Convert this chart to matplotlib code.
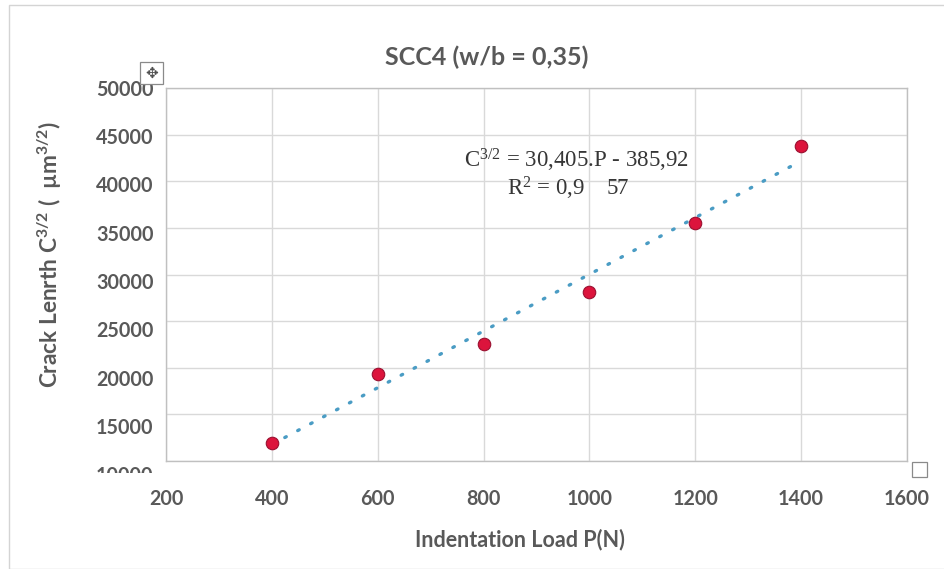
import matplotlib
matplotlib.use("Agg")
import matplotlib.pyplot as plt
import numpy as np
from matplotlib.patches import Rectangle
from matplotlib.transforms import ScaledTranslation

# ---- data ----
load_P = [400, 600, 800, 1000, 1200, 1400]
crack_C32 = [11950, 19350, 22500, 28150, 35550, 43750]
slope = 30.405
intercept = -385.92
x_ticks = [200, 400, 600, 800, 1000, 1200, 1400, 1600]
y_ticks = [10000, 15000, 20000, 25000, 30000, 35000, 40000, 45000, 50000]
title = "SCC4 (w/b = 0,35)"
xlabel = "Indentation Load P(N)"
ylabel = "Crack Lenrth C$^{3/2}$ (  µm$^{3/2}$)"
eq_line1 = "C$^{3/2}$ = 30,405.P - 385,92"
eq_line2 = "R$^{2}$ = 0,9    57"

plt.rcParams['font.family'] = ['Lato', 'DejaVu Sans']
plt.rcParams['mathtext.default'] = 'regular'

W, H = 944, 569
fig = plt.figure(figsize=(W / 100, H / 100), dpi=100)
fig.patch.set_facecolor('white')

# outer chart border
fig.patches.append(Rectangle((9 / W, 0), 1, 1 - 5 / H, transform=fig.transFigure,
                             fill=False, edgecolor='#d4d4d4', linewidth=1.0))

left, right, top, bottom = 166, 907, 88, 461
ax = fig.add_axes([left / W, 1 - bottom / H, (right - left) / W, (bottom - top) / H])

gray = '#595959'
ax.set_xlim(200, 1600)
ax.set_ylim(10000, 50000)
ax.set_xticks(x_ticks, [str(v) for v in x_ticks])
ax.set_yticks(y_ticks, [str(v) for v in y_ticks])
ax.grid(True, color='#d9d9d9', linewidth=1.0)
ax.set_axisbelow(True)
for s in ax.spines.values():
    s.set_color('#c0c0c0')
    s.set_linewidth(1.0)
ax.tick_params(length=0, labelsize=14.2, labelcolor=gray, pad=9)
ax.tick_params(axis='x', pad=20)
for lab in ax.get_xticklabels() + ax.get_yticklabels():
    lab.set_fontweight('bold')

# y tick labels drift slightly downward in the reference
for tick in ax.yaxis.get_major_ticks():
    v = tick.get_loc()
    off = (50000 - v) / 40000 * 13
    tick.label1.set_transform(tick.label1.get_transform() +
                              ScaledTranslation(0, -off / 100, fig.dpi_scale_trans))
    if v == 10000:
        tick.label1.set_clip_on(True)
        tick.label1.set_clip_path(Rectangle((0, 1 - 473 / H), 1, 1, transform=fig.transFigure))

# trendline
xt = np.array([load_P[0], load_P[-1]])
ax.plot(xt, slope * xt + intercept, color='#4a9cc4', linewidth=2.4,
        linestyle=(0, (0.5, 3.9)), dash_capstyle='round', zorder=2)

# points
ax.plot(load_P, crack_C32, linestyle='none', marker='o', markersize=9.0,
        markerfacecolor='#dc143c', markeredgecolor='#9a1030', markeredgewidth=0.8, zorder=3)

# equation labels (axes-fraction positions)
ax.text((576 - left) / (right - left), (bottom - 160) / (bottom - top), eq_line1,
        transform=ax.transAxes, ha='center', va='center', fontsize=16.5,
        family=['Liberation Serif'], color='#363636', math_fontfamily='stix')
ax.text((568 - left) / (right - left), (bottom - 188) / (bottom - top), eq_line2,
        transform=ax.transAxes, ha='center', va='center', fontsize=16.5,
        family=['Liberation Serif'], color='#363636', math_fontfamily='stix')

fig.text(487 / W, 1 - 57 / H, title, ha='center', va='center', fontsize=18,
         fontweight='bold', color=gray)
fig.text(520 / W, 1 - 540 / H, xlabel, ha='center', va='center', fontsize=15.5,
         fontweight='bold', color=gray)
fig.text(50 / W, 1 - 254 / H, ylabel, ha='center', va='center', fontsize=16.3,
         fontweight='bold', color=gray, rotation=90)

# small chart UI decorations
fig.patches.append(Rectangle((140 / W, 1 - 84 / H), 23 / W, 22 / H, transform=fig.transFigure,
                             facecolor='white', edgecolor='#8a8a8a', linewidth=0.9, zorder=5))
fig.text(151.5 / W, 1 - 73 / H, "✥", ha='center', va='center', fontsize=11,
         color='#505050', family=['DejaVu Sans'], zorder=6)
fig.patches.append(Rectangle((912 / W, 1 - 477 / H), 15 / W, 15 / H, transform=fig.transFigure,
                             facecolor='white', edgecolor='#8a8a8a', linewidth=0.9, zorder=5))

fig.savefig('out.png', dpi=100, facecolor='white')
